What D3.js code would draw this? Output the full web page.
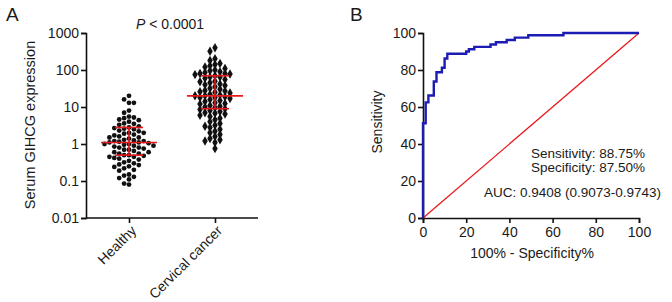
<!DOCTYPE html>
<html>
<head>
<meta charset="utf-8">
<script src="https://cdn.jsdelivr.net/npm/d3@7"></script>
<style>
  body { margin: 0; background: #fff; }
  text { font-family: "Liberation Sans", Arial, sans-serif; fill: #1a1a1a; }
</style>
</head>
<body>
<div class="chart"></div>
<script>
// panel A data
const groups = ["Healthy", "Cervical cancer"]
const healthy = [20, 16, 13, 13, 8, 7, 5.5, 5.2, 5, 4.6, 4.4, 4, 3.6, 3.5, 3.3, 3.0, 2.8, 2.7, 2.6, 2.5,
  2.3, 2.2, 2.0, 2.0, 1.9, 1.8, 1.7, 1.6, 1.5, 1.5, 1.4, 1.3, 1.25, 1.2, 1.2, 1.15, 1.1, 1.1, 1.05, 1.0,
  1.0, 0.95, 0.9, 0.9, 0.85, 0.8, 0.8, 0.75, 0.7, 0.7, 0.65, 0.6, 0.6, 0.55, 0.55, 0.5, 0.5, 0.48, 0.45, 0.45,
  0.42, 0.4, 0.38, 0.35, 0.32, 0.3, 0.28, 0.27, 0.25, 0.24, 0.22, 0.2, 0.19, 0.15, 0.14, 0.13, 0.12, 0.11, 0.085, 0.08]
const cancer = [400, 320, 200, 180, 150, 140, 130, 120, 110, 100, 95, 90, 85, 80, 80, 78, 75, 70, 65, 65,
  60, 55, 50, 48, 45, 42, 40, 38, 35, 32, 30, 28, 27, 26, 25, 24, 22, 21, 20, 20,
  19, 18, 18, 17, 16, 15, 14, 13, 12.5, 12, 11, 10.5, 10, 9.5, 9, 8.5, 8, 7.5, 7, 6.8,
  6.5, 6, 5.5, 5, 4.5, 4, 3.6, 3.2, 3, 2.8, 2.5, 2.2, 2, 1.8, 1.6, 1.4, 1.3, 1.2, 1.1, 0.75]
// median and interquartile range [q1, median, q3]
const healthyStats = [0.5, 1.1, 2.8]
const cancerStats = [9, 20, 70]
const logTicks = [0.01, 0.1, 1, 10, 100, 1000]

// panel B data (ROC)
const rocFpr = [0, 0, 1.25, 2.5, 5, 6.25, 8.75, 10, 11.25, 20, 21.25, 23.75, 31.25, 33.75, 38.75, 42.5, 48.75, 65, 100]
const rocTpr = [0, 51.25, 62.5, 66.25, 73.75, 78.75, 81.25, 86.25, 88.75, 90, 91.25, 92.5, 93.75, 95, 96.25, 97.5, 98.75, 100, 100]
const linTicks = [0, 20, 40, 60, 80, 100]

const svg = d3.select(".chart").append("svg").attr("width", 672).attr("height", 302)

// ---------- panel A ----------
const xA = d3.scalePoint().domain(groups).range([86, 258]).padding(0.5)
const yA = d3.scaleLog().domain([0.01, 1000]).range([218, 33])

svg.append("text").attr("x", 6).attr("y", 21).style("font-size", "19px").text("A")

const axA = svg.append("g").attr("transform", "translate(86,0)")
  .call(d3.axisLeft(yA).tickValues(logTicks).tickFormat(d => d >= 1 ? d3.format("d")(d) : String(d)).tickSizeOuter(0).tickSize(5))
const axAx = svg.append("g").attr("transform", "translate(0,218)")
  .call(d3.axisBottom(xA).tickSizeOuter(0).tickSize(5))
axAx.select(".domain").attr("d", "M86,0H258")
axAx.selectAll("text").attr("transform", "rotate(-45)").attr("text-anchor", "end")
  .attr("dx", "-0.3em").attr("dy", "0.5em").attr("y", 8).attr("x", 0)
for (const ax of [axA, axAx]) {
  ax.selectAll(".domain, line").attr("stroke", "#111").attr("stroke-width", 1.6)
  ax.selectAll("text").style("font-size", "14px").style("font-family", "Liberation Sans, Arial, sans-serif").attr("fill", "#1a1a1a")
}
axA.selectAll("text").attr("x", -7)

svg.append("text").attr("transform", "translate(35,125) rotate(-90)").attr("text-anchor", "middle")
  .style("font-size", "14.5px").text("Serum GIHCG expression")
const ptxt = svg.append("text").attr("x", 170).attr("y", 29).attr("text-anchor", "middle").style("font-size", "14px")
ptxt.append("tspan").style("font-style", "italic").text("P")
ptxt.append("tspan").text(" < 0.0001")

// simple beeswarm placement
function swarm(values, cx, gap) {
  const placed = []
  const sorted = values.map(v => ({ v, y: yA(v) })).sort((a, b) => a.y - b.y)
  for (const p of sorted) {
    for (let k = 0; k < 40; k++) {
      const off = (k % 2 === 0 ? 1 : -1) * Math.ceil(k / 2) * gap
      const x = cx + off
      if (placed.every(q => Math.hypot(q.x - x, q.y - p.y) >= gap)) { p.x = x; break }
    }
    placed.push(p)
  }
  return placed
}

const hPts = swarm(healthy, xA("Healthy"), 4.9)
const cPts = swarm(cancer, xA("Cervical cancer"), 5.0)

svg.append("g").selectAll("circle").data(hPts).enter().append("circle")
  .attr("cx", d => d.x).attr("cy", d => d.y).attr("r", 2.4).attr("fill", "#111")
svg.append("g").selectAll("path").data(cPts).enter().append("path")
  .attr("d", d3.symbol().type(d3.symbolDiamond).size(26))
  .attr("transform", d => `translate(${d.x},${d.y})`).attr("fill", "#111")

function stats(s, name) {
  const cx = xA(name)
  const g = svg.append("g").attr("stroke", "#e8191c").attr("stroke-width", 1.6)
  g.append("line").attr("x1", cx).attr("x2", cx).attr("y1", yA(s[0])).attr("y2", yA(s[2]))
  g.append("line").attr("x1", cx - 28).attr("x2", cx + 28).attr("y1", yA(s[1])).attr("y2", yA(s[1]))
  for (const q of [s[0], s[2]])
    g.append("line").attr("x1", cx - 14).attr("x2", cx + 14).attr("y1", yA(q)).attr("y2", yA(q))
}
stats(healthyStats, "Healthy")
stats(cancerStats, "Cervical cancer")

// ---------- panel B ----------
const xB = d3.scaleLinear().domain([0, 100]).range([423, 639])
const yB = d3.scaleLinear().domain([0, 100]).range([218, 33])

svg.append("text").attr("x", 350).attr("y", 21).style("font-size", "19px").text("B")

const axBy = svg.append("g").attr("transform", "translate(423,0)")
  .call(d3.axisLeft(yB).tickValues(linTicks).tickSizeOuter(0).tickSize(5))
const axBx = svg.append("g").attr("transform", "translate(0,218)")
  .call(d3.axisBottom(xB).tickValues(linTicks).tickSizeOuter(0).tickSize(5))
for (const ax of [axBy, axBx]) {
  ax.selectAll(".domain, line").attr("stroke", "#111").attr("stroke-width", 1.6)
  ax.selectAll("text").style("font-size", "14px").style("font-family", "Liberation Sans, Arial, sans-serif").attr("fill", "#1a1a1a")
}
axBy.selectAll("text").attr("x", -7)
axBx.selectAll("text").attr("y", 9)

svg.append("text").attr("transform", "translate(382,122) rotate(-90)").attr("text-anchor", "middle")
  .style("font-size", "14px").text("Sensitivity")
svg.append("text").attr("x", 532).attr("y", 258).attr("text-anchor", "middle")
  .style("font-size", "14px").text("100% - Specificity%")

// reference diagonal
svg.append("line").attr("x1", xB(0)).attr("y1", yB(0)).attr("x2", xB(100)).attr("y2", yB(100))
  .attr("stroke", "#e8191c").attr("stroke-width", 1.3)

const roc = rocFpr.map((f, i) => [f, rocTpr[i]])
svg.append("path").datum(roc)
  .attr("d", d3.line().x(d => xB(d[0])).y(d => yB(d[1])).curve(d3.curveStepAfter))
  .attr("fill", "none").attr("stroke", "#1c1cb4").attr("stroke-width", 2.4)

svg.append("text").attr("x", 531).attr("y", 158).style("font-size", "13.5px").text("Sensitivity: 88.75%")
svg.append("text").attr("x", 531).attr("y", 172).style("font-size", "13.5px").text("Specificity: 87.50%")
svg.append("text").attr("x", 484).attr("y", 197).style("font-size", "13.5px").text("AUC: 0.9408 (0.9073-0.9743)")
</script>
</body>
</html>
